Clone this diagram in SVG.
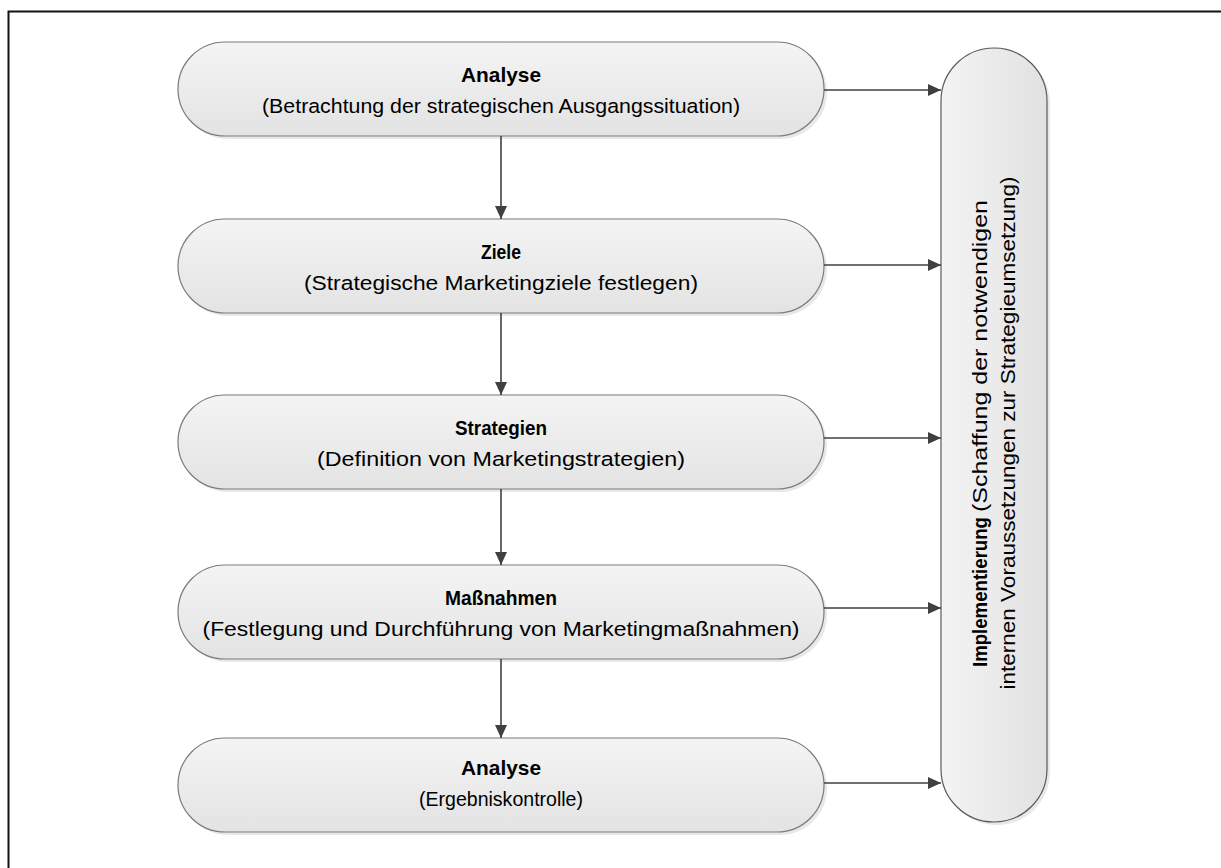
<svg xmlns="http://www.w3.org/2000/svg" width="1221" height="868" viewBox="0 0 1221 868">
  <style>
    .box { fill: url(#boxFill); stroke: #7a7a7a; stroke-width: 1.2; }
    .pill { fill: url(#pillFill); stroke: #5a5a5a; stroke-width: 1.2; }
    .shadow { fill: #d9d9d9; opacity: 0.6; }
    .t { font-family: "Liberation Sans", Arial, sans-serif; font-size: 20.5px; fill: #000; text-anchor: middle; }
    .b { font-weight: bold; }
    .conn { stroke: #404040; stroke-width: 1.6; fill: none; marker-end: url(#arrow); }
  </style>
  <defs>
    <linearGradient id="boxFill" x1="0" y1="0" x2="0" y2="1">
      <stop offset="0" stop-color="#f4f4f4"/>
      <stop offset="1" stop-color="#e3e3e3"/>
    </linearGradient>
    <linearGradient id="pillFill" x1="0" y1="0" x2="1" y2="0">
      <stop offset="0" stop-color="#f4f4f4"/>
      <stop offset="1" stop-color="#e1e1e1"/>
    </linearGradient>
    <marker id="arrow" viewBox="0 0 13 12" refX="13" refY="6" markerWidth="13" markerHeight="12" markerUnits="userSpaceOnUse" orient="auto">
      <path d="M0,0 L13,6 L0,12 z" fill="#404040"/>
    </marker>
  </defs>

  <rect width="1221" height="868" fill="#fff"/>
  <!-- frame -->
  <path d="M8.5,868 V11.5 H1221" fill="none" stroke="#111" stroke-width="2"/>

  <g id="analyse">
    <rect class="shadow" x="181" y="45" width="646" height="94" rx="47"/>
    <rect class="box" x="178" y="42" width="646" height="94" rx="47"/>
    <text class="t b" x="501" y="82" textLength="80" lengthAdjust="spacingAndGlyphs">Analyse</text>
    <text class="t" x="501" y="113" textLength="478" lengthAdjust="spacingAndGlyphs">(Betrachtung der strategischen Ausgangssituation)</text>
  </g>

  <g id="ziele">
    <rect class="shadow" x="181" y="222" width="646" height="94" rx="47"/>
    <rect class="box" x="178" y="219" width="646" height="94" rx="47"/>
    <text class="t b" x="501" y="259" textLength="40" lengthAdjust="spacingAndGlyphs">Ziele</text>
    <text class="t" x="501" y="290" textLength="394" lengthAdjust="spacingAndGlyphs">(Strategische Marketingziele festlegen)</text>
  </g>

  <g id="strategien">
    <rect class="shadow" x="181" y="398" width="646" height="94" rx="47"/>
    <rect class="box" x="178" y="395" width="646" height="94" rx="47"/>
    <text class="t b" x="501" y="435" textLength="92" lengthAdjust="spacingAndGlyphs">Strategien</text>
    <text class="t" x="501" y="466" textLength="368" lengthAdjust="spacingAndGlyphs">(Definition von Marketingstrategien)</text>
  </g>

  <g id="massnahmen">
    <rect class="shadow" x="181" y="568" width="646" height="94" rx="47"/>
    <rect class="box" x="178" y="565" width="646" height="94" rx="47"/>
    <text class="t b" x="501" y="605" textLength="112" lengthAdjust="spacingAndGlyphs">Maßnahmen</text>
    <text class="t" x="501" y="636" textLength="597" lengthAdjust="spacingAndGlyphs">(Festlegung und Durchführung von Marketingmaßnahmen)</text>
  </g>

  <g id="kontrolle">
    <rect class="shadow" x="181" y="741" width="646" height="94" rx="47"/>
    <rect class="box" x="178" y="738" width="646" height="94" rx="47"/>
    <text class="t b" x="501" y="775" textLength="80" lengthAdjust="spacingAndGlyphs">Analyse</text>
    <text class="t" x="501" y="806" textLength="164" lengthAdjust="spacingAndGlyphs">(Ergebniskontrolle)</text>
  </g>

  <g id="implementierung">
    <rect class="shadow" x="944" y="51" width="106" height="774" rx="53"/>
    <rect class="pill" x="941" y="48" width="106" height="774" rx="53"/>
    <g transform="translate(987,433) rotate(-90)">
      <text class="t b" x="-159" y="0" textLength="150" lengthAdjust="spacingAndGlyphs">Implementierung</text>
      <text class="t" x="77" y="0" textLength="312" lengthAdjust="spacingAndGlyphs">(Schaffung der notwendigen</text>
      <text class="t" x="0" y="28" textLength="513" lengthAdjust="spacingAndGlyphs">internen Voraussetzungen zur Strategieumsetzung)</text>
    </g>
  </g>

  <g id="connectors">
    <line class="conn" x1="501" y1="136" x2="501" y2="219"/>
    <line class="conn" x1="501" y1="313" x2="501" y2="395"/>
    <line class="conn" x1="501" y1="489" x2="501" y2="565"/>
    <line class="conn" x1="501" y1="659" x2="501" y2="738"/>
    <line class="conn" x1="824" y1="90" x2="941" y2="90"/>
    <line class="conn" x1="824" y1="265" x2="941" y2="265"/>
    <line class="conn" x1="824" y1="438" x2="941" y2="438"/>
    <line class="conn" x1="824" y1="608" x2="941" y2="608"/>
    <line class="conn" x1="824" y1="783" x2="941" y2="783"/>
  </g>
</svg>
